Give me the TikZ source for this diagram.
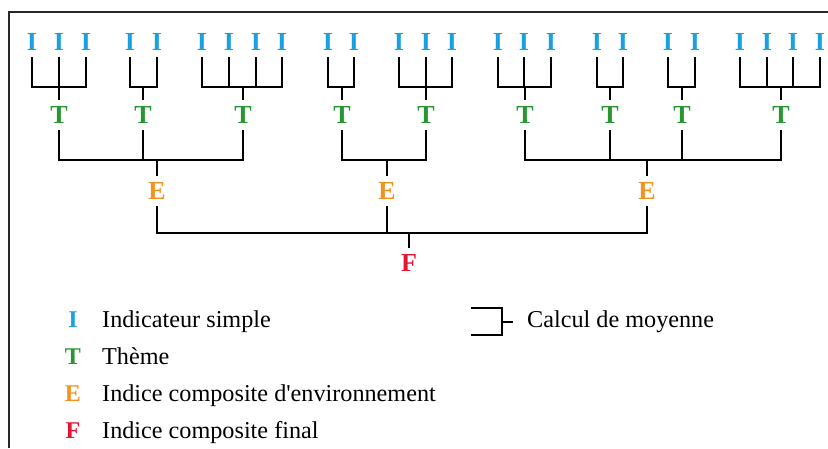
\documentclass[tikz,border=0pt]{standalone}
\usepackage{fontspec}
\setmainfont{Liberation Serif}
\definecolor{Iblue}{RGB}{27,161,226}
\definecolor{Tgreen}{RGB}{40,150,50}
\definecolor{Eorange}{RGB}{243,146,30}
\definecolor{Fred}{RGB}{226,22,50}
\definecolor{framecol}{RGB}{40,40,40}
\newcommand\mybracket[5]{%
  \draw[conn] (#1.south) -- (#1.south |- 0,#5) -- (#2.south |- 0,#5) -- (#2.south);
  \foreach \c in {#3} {\draw[conn] (\c.south) -- (\c.south |- 0,#5);}
  \draw[conn] (#4.north) -- (#4.north |- 0,#5);
}
\begin{document}
\begin{tikzpicture}[x=1pt,y=-1pt,
  lett/.style={inner sep=0pt, minimum height=30pt, text depth=0pt, font=\fontsize{26}{30}\selectfont\bfseries},
  ind/.style={lett, text=Iblue},
  them/.style={lett, text=Tgreen},
  envi/.style={lett, text=Eorange},
  fin/.style={lett, text=Fred},
  conn/.style={line width=2pt, black},
  legl/.style={anchor=base, inner sep=0pt, font=\fontsize{24}{28}\selectfont\bfseries},
  legt/.style={anchor=base west, inner sep=0pt, font=\fontsize{24.2}{28}\selectfont},
]
\useasboundingbox (0,0) rectangle (828,448);
\draw[framecol, line width=1.2pt] (9,448) -- (9,12) -- (828,12);
% indicators
\foreach \n/\x in {a1/32,a2/59,a3/86, b1/130,b2/157, c1/202,c2/229,c3/256,c4/282,
  d1/328,d2/354, e1/399,e2/426,e3/452, f1/498,f2/524,f3/551, g1/597,g2/623,
  h1/668,h2/695, k1/740,k2/767,k3/793,k4/820}
  \node[ind] (\n) at (\x,42) {I};
% themes
\foreach \n/\x in {ta/59,tb/143,tc/243,td/342,te/426,tf/525,tg/610,th/682,tk/781}
  \node[them] (\n) at (\x,115) {T};
% environment
\node[envi] (E1) at (157,191) {E};
\node[envi] (E2) at (387,191) {E};
\node[envi] (E3) at (647,191) {E};
\node[fin] (F) at (409,263) {F};
% brackets
\mybracket{a1}{a3}{a2}{ta}{87}
\mybracket{b1}{b2}{b1}{tb}{87}
\mybracket{c1}{c4}{c2,c3}{tc}{87}
\mybracket{d1}{d2}{d1}{td}{87}
\mybracket{e1}{e3}{e2}{te}{87}
\mybracket{f1}{f3}{f2}{tf}{87}
\mybracket{g1}{g2}{g1}{tg}{87}
\mybracket{h1}{h2}{h1}{th}{87}
\mybracket{k1}{k4}{k2,k3}{tk}{87}
\mybracket{ta}{tc}{tb}{E1}{160}
\mybracket{td}{te}{td}{E2}{160}
\mybracket{tf}{tk}{tg,th}{E3}{160}
\mybracket{E1}{E3}{E2}{F}{233}
% legend
\node[legl, text=Iblue] (lI) at (73,327) {I};
\node[legl, text=Tgreen] (lT) at (73,364) {T};
\node[legl, text=Eorange] (lE) at (73,401) {E};
\node[legl, text=Fred] (lF) at (73,438) {F};
\node[legt] (tI) at (102,327) {Indicateur simple};
\node[legt] (tT) at (102,364) {Thème};
\node[legt] (tE) at (102,401) {Indice composite d\textquotesingle environnement};
\node[legt] (tF) at (102,438) {Indice composite final};
\coordinate (m1) at (471,308);
\coordinate (m2) at (471,335);
\coordinate (m3) at (513,322);
\draw[conn] (m1) -- (m1 -| 502,0) -- (m2 -| 502,0) -- (m2);
\draw[conn] (m3 -| 502,0) -- (m3);
\node[legt] (tC) at (527,327) {Calcul de moyenne};
\end{tikzpicture}
\end{document}
